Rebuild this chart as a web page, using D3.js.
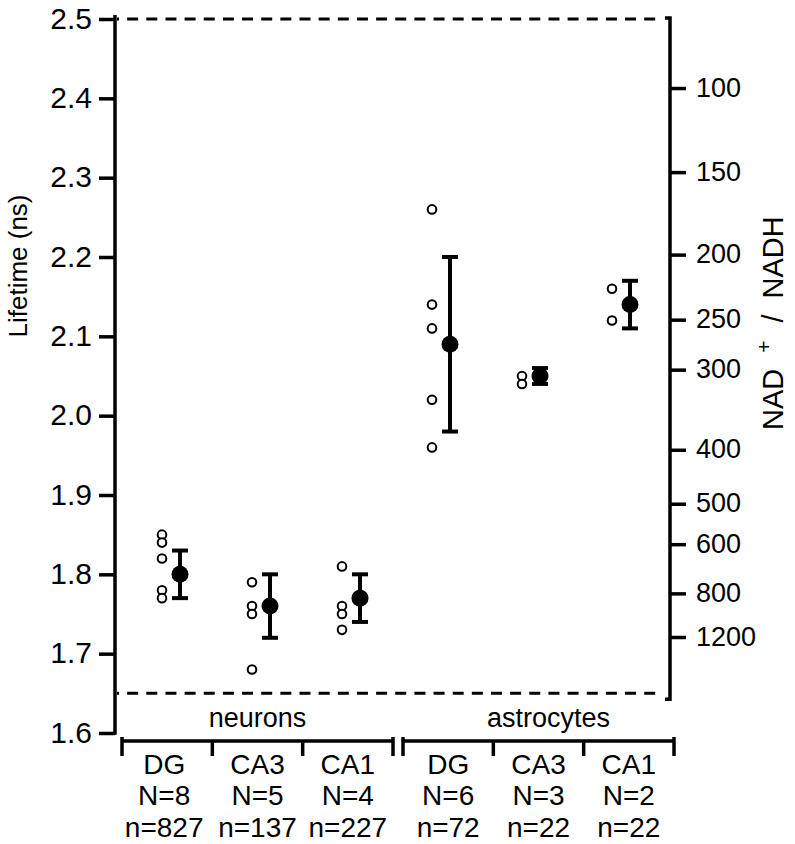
<!DOCTYPE html>
<html>
<head>
<meta charset="utf-8">
<script src="https://cdn.jsdelivr.net/npm/d3@7"></script>
<style>
  html, body { margin: 0; padding: 0; background: #fff; }
  svg { display: block; }
  text { font-family: "Liberation Sans", Arial, Helvetica, sans-serif; fill: #000; }
</style>
</head>
<body>
<svg id="chart" width="795" height="844"></svg>
<script>
// ---------- data ----------
const categories = ["nDG", "nCA3", "nCA1", "aDG", "aCA3", "aCA1"];
const groups = ["neurons", "astrocytes"];
const regionLabels = ["DG", "CA3", "CA1", "DG", "CA3", "CA1"];
const bigN = [8, 5, 4, 6, 3, 2];
const smallN = [827, 137, 227, 72, 22, 22];
const means = [1.80, 1.76, 1.77, 2.09, 2.05, 2.14];
const errLow = [1.77, 1.72, 1.74, 1.98, 2.04, 2.11];
const errHigh = [1.83, 1.80, 1.80, 2.20, 2.06, 2.17];
const individual = [
  [1.85, 1.84, 1.82, 1.78, 1.77],
  [1.79, 1.76, 1.75, 1.68],
  [1.81, 1.76, 1.75, 1.73],
  [2.26, 2.14, 2.11, 2.02, 1.96],
  [2.05, 2.04],
  [2.16, 2.12]
];
const leftTicks = [1.6, 1.7, 1.8, 1.9, 2.0, 2.1, 2.2, 2.3, 2.4, 2.5];
const rightTickLabels = [100, 150, 200, 250, 300, 400, 500, 600, 800, 1200];
const rightTickLifetimes = [2.413, 2.307, 2.203, 2.121, 2.058, 1.957, 1.889, 1.838, 1.776, 1.721];
const dashedLevels = [2.5, 1.65];

// ---------- layout ----------
const svg = d3.select("#chart");
const leftX = 115, rightX = 670;
const y = d3.scaleLinear().domain([1.6, 2.5]).range([733, 19]);
const x = d3.scalePoint().domain(categories).range([180, 630]);
const offset = 18;
const stroke = "#000";
const FONT = '"Liberation Sans", Arial, Helvetica, sans-serif';

// dashed lines
svg.selectAll("line.dash").data(dashedLevels).join("line")
  .attr("x1", leftX + 2).attr("x2", rightX - 14)
  .attr("y1", d => y(d)).attr("y2", d => y(d))
  .attr("stroke", stroke).attr("stroke-width", 3)
  .attr("stroke-dasharray", "11,8.15")
  .attr("stroke-dashoffset", 9);

// left axis
const gL = svg.append("g").attr("transform", `translate(${leftX},0)`);
gL.call(d3.axisLeft(y).tickValues(leftTicks).tickFormat(d3.format(".1f")).tickSize(16).tickSizeOuter(0).tickPadding(7));
gL.select(".domain").remove();
gL.selectAll(".tick line").attr("stroke", stroke).attr("stroke-width", 3.5);
gL.selectAll(".tick text").attr("font-size", 30).attr("dy", "0.3em").style("font-family", FONT);
gL.append("line").attr("x1", 0).attr("x2", 0).attr("y1", y(2.5) - 4).attr("y2", y(1.6) + 1.75)
  .attr("stroke", stroke).attr("stroke-width", 3.5);

svg.append("text")
  .attr("transform", `translate(27,${(y(2.5) + y(1.6)) / 2 - 110}) rotate(-90)`)
  .attr("text-anchor", "middle").attr("font-size", 26)
  .text("Lifetime (ns)");

// right axis
const gR = svg.append("g").attr("transform", `translate(${rightX},0)`);
gR.call(d3.axisRight(y).tickValues(rightTickLifetimes).tickFormat((d, i) => rightTickLabels[i]).tickSize(16).tickSizeOuter(0).tickPadding(10));
gR.select(".domain").remove();
gR.selectAll(".tick line").attr("stroke", stroke).attr("stroke-width", 3.5);
gR.selectAll(".tick text").attr("font-size", 27).attr("dy", "0.3em").style("font-family", FONT);
const rTop = y(2.5) - 1, rBot = y(1.65) + 6;
gR.append("path")
  .attr("d", `M-5,${rTop}H0V${rBot}H-5`)
  .attr("fill", "none").attr("stroke", stroke).attr("stroke-width", 3.5);

const rTitle = svg.append("text")
  .attr("transform", `translate(783,${(y(2.5) + y(1.65)) / 2 - 33}) rotate(-90)`)
  .attr("text-anchor", "middle").attr("font-size", 29);
rTitle.append("tspan").text("NAD");
rTitle.append("tspan").attr("font-size", 21).attr("dx", 16).attr("dy", -12).text("+");
rTitle.append("tspan").attr("dx", 18).attr("dy", 12).text("/");
rTitle.append("tspan").attr("dx", 16).text("NADH");

// error bars
const capW = 8;
const eb = svg.append("g");
categories.forEach((c, i) => {
  const cx = x(c);
  eb.append("line").attr("x1", cx).attr("x2", cx).attr("y1", y(errHigh[i])).attr("y2", y(errLow[i]))
    .attr("stroke", stroke).attr("stroke-width", 4);
  [errHigh[i], errLow[i]].forEach(v => {
    eb.append("line").attr("x1", cx - capW).attr("x2", cx + capW).attr("y1", y(v)).attr("y2", y(v))
      .attr("stroke", stroke).attr("stroke-width", 4);
  });
});

// mean dots
svg.append("g").selectAll("circle").data(categories).join("circle")
  .attr("cx", d => x(d)).attr("cy", (d, i) => y(means[i])).attr("r", 8.5).attr("fill", stroke);

// individual points
const pts = [];
individual.forEach((arr, i) => arr.forEach(v => pts.push({ c: categories[i], v })));
svg.append("g").selectAll("circle").data(pts).join("circle")
  .attr("cx", d => x(d.c) - offset).attr("cy", d => y(d.v)).attr("r", 4.3)
  .attr("fill", "#fff").attr("stroke", stroke).attr("stroke-width", 2);

// bottom brackets
const gx = d3.scaleBand().domain(groups).range([122, 674]).paddingInner(10 / 281).paddingOuter(0);
const sub = d3.scaleBand().domain([0, 1, 2]).range([0, gx.bandwidth()]);
const lineY = 741;
const gb = svg.append("g");
groups.forEach((g, gi) => {
  const x0 = gx(g), x1 = x0 + gx.bandwidth();
  gb.append("line").attr("x1", x0).attr("x2", x1).attr("y1", lineY).attr("y2", lineY)
    .attr("stroke", stroke).attr("stroke-width", 3.5);
  const tickXs = [x0, x0 + sub(1), x0 + sub(2), x1];
  tickXs.forEach((tx, k) => {
    gb.append("line").attr("x1", tx).attr("x2", tx)
      .attr("y1", (k === 0 || k === 3) ? lineY - 4 : lineY).attr("y2", lineY + 15)
      .attr("stroke", stroke).attr("stroke-width", 3.5);
  });
  gb.append("text").attr("x", x0 + gx.bandwidth() / 2 + (gi === 1 ? 10 : 0)).attr("y", 727)
    .attr("text-anchor", "middle").attr("font-size", 27).text(g);
  [0, 1, 2].forEach(j => {
    const idx = gi * 3 + j;
    const cx = x0 + sub(j) + sub.bandwidth() / 2 - (gi === 0 && j === 0 ? 3 : 0);
    const t = gb.append("text").attr("text-anchor", "middle").attr("font-size", 28);
    t.append("tspan").attr("x", cx).attr("y", 774).text(regionLabels[idx]);
    t.append("tspan").attr("x", cx).attr("y", 805).text("N=" + bigN[idx]);
    t.append("tspan").attr("x", cx).attr("y", 837).text("n=" + smallN[idx]);
  });
});
</script>
</body>
</html>
